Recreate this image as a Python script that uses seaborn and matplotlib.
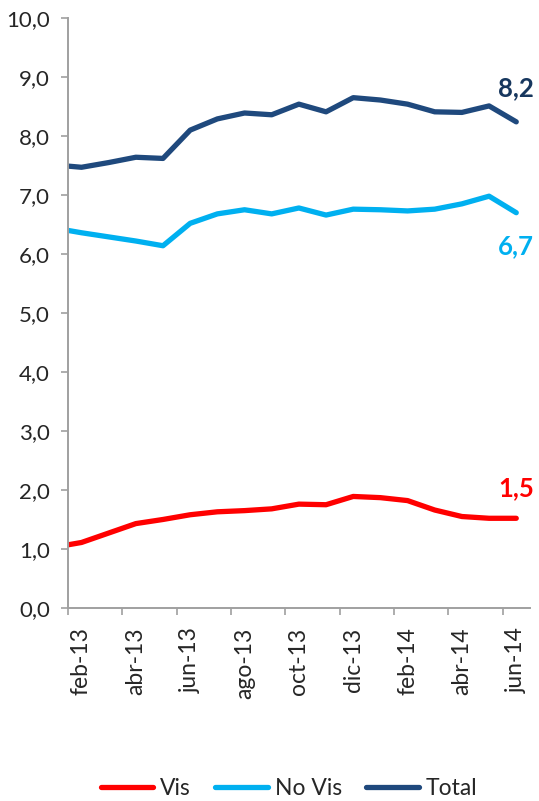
import numpy as np
import pandas as pd
import matplotlib
matplotlib.use("Agg")
import matplotlib.pyplot as plt
from matplotlib.ticker import FuncFormatter, FixedLocator
import seaborn as sns

# month positions: first point sits on the left edge of the axis
month_pos = [-0.5, 0, 1, 2, 3, 4, 5, 6, 7, 8, 9, 10, 11, 12, 13, 14, 15, 16]
tick_labels = ["feb-13", "abr-13", "jun-13", "ago-13", "oct-13",
               "dic-13", "feb-14", "abr-14", "jun-14"]

vis = [1.07, 1.11, 1.27, 1.43, 1.50, 1.58, 1.63, 1.65, 1.68, 1.76,
       1.75, 1.89, 1.87, 1.82, 1.66, 1.55, 1.52, 1.52]
no_vis = [6.40, 6.36, 6.29, 6.22, 6.14, 6.52, 6.68, 6.75, 6.68, 6.78,
          6.66, 6.76, 6.75, 6.73, 6.76, 6.85, 6.98, 6.70]
total = [7.49, 7.47, 7.55, 7.64, 7.62, 8.10, 8.29, 8.39, 8.36, 8.54,
         8.41, 8.65, 8.61, 8.54, 8.41, 8.40, 8.51, 8.24]

colors = {"Vis": "#FF0000", "No Vis": "#00B0F0", "Total": "#1F497D"}
label_colors = {"Vis": "#FF0000", "No Vis": "#00B0F0", "Total": "#17375E"}

df = pd.concat([
    pd.DataFrame({"pos": month_pos, "valor": vis, "serie": "Vis"}),
    pd.DataFrame({"pos": month_pos, "valor": no_vis, "serie": "No Vis"}),
    pd.DataFrame({"pos": month_pos, "valor": total, "serie": "Total"}),
])

sns.set_style("white")
plt.rcParams["font.family"] = ["Lato", "DejaVu Sans"]

fig = plt.figure(figsize=(5.39, 8.01), dpi=100)
ax = fig.add_axes([0.126, 0.241, 0.857, 0.7365])

sns.lineplot(data=df, x="pos", y="valor", hue="serie", palette=colors,
             linewidth=3.8, ax=ax, sort=False, legend=True)
for line in ax.get_lines():
    line.set_solid_capstyle("round")
    line.set_solid_joinstyle("round")

ax.set_xlim(-0.5, 16.5)
ax.set_ylim(0, 10)
ax.set_xlabel("")
ax.set_ylabel("")

fmt = FuncFormatter(lambda v, p: f"{v:.1f}".replace(".", ","))
ax.set_yticks(np.arange(0, 10.5, 1))
ax.yaxis.set_major_formatter(fmt)

label_pos = month_pos[1::2]
ax.set_xticks(label_pos)
ax.set_xticklabels(tick_labels, rotation=90)
ax.xaxis.set_minor_locator(FixedLocator(np.arange(-0.5, 16, 2)))
ax.tick_params(axis="x", which="major", length=0, pad=14, labelsize=16.5)
ax.tick_params(axis="x", which="minor", length=5, width=1.2, color="#A0A0A0",
               direction="out", bottom=True)
ax.tick_params(axis="y", length=5, width=1.2, color="#A0A0A0", direction="out",
               left=True, labelsize=16, pad=8)

for s in ["top", "right"]:
    ax.spines[s].set_visible(False)
for s in ["left", "bottom"]:
    ax.spines[s].set_color("#A0A0A0")
    ax.spines[s].set_linewidth(1.4)

# end labels
offsets = {"Total": 24, "No Vis": -24, "Vis": 22}
for name, vals in [("Total", total), ("No Vis", no_vis), ("Vis", vis)]:
    ax.annotate(f"{vals[-1]:.1f}".replace(".", ","), xy=(month_pos[-1], vals[-1]),
                xytext=(0, offsets[name]), textcoords="offset points",
                ha="center", va="center",
                fontsize=18.5, fontweight="bold", color=label_colors[name])

handles, labels = ax.get_legend_handles_labels()
ax.legend(handles, labels, loc="center", bbox_to_anchor=(0.536, 0.016),
          bbox_transform=fig.transFigure, ncol=3, frameon=False,
          fontsize=16.5, handlelength=2.3, columnspacing=1.05,
          handletextpad=0.3, borderpad=0)

fig.savefig("out.png", dpi=100)
